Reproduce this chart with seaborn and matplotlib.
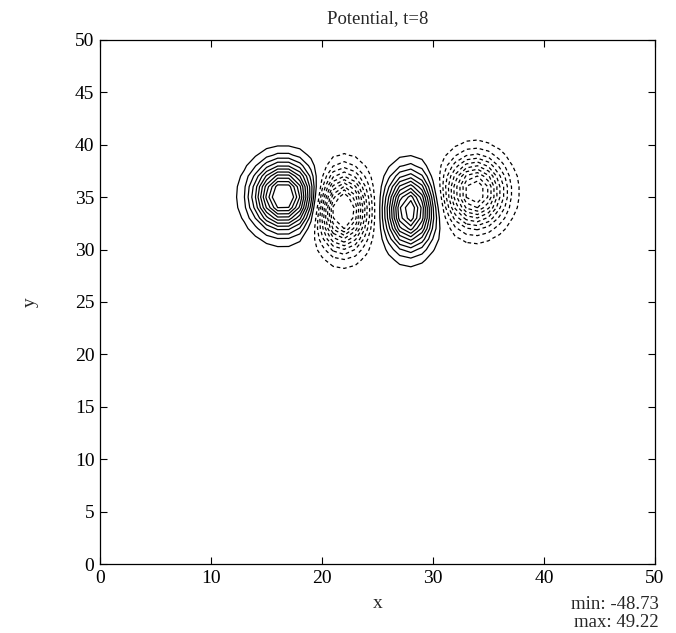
import numpy as np
import matplotlib
matplotlib.use("Agg")
import matplotlib.pyplot as plt
import seaborn as sns

# vortex parameters
vx_center = [16.5, 21.9, 27.9, 33.8]
vy_center = [35.1, 33.7, 33.7, 35.5]
amplitude = [49.22, -48.73, 46.0, -43.0]
sigma_x = [1.8, 1.45, 1.4, 1.75]
sigma_y = [2.1, 2.4, 2.35, 2.2]
level_step = 3.75
n_pos_levels = 11
n_neg_levels = 10

title_text = "Potential, t=8"
min_text = "min: -48.73"
max_text = "max: 49.22"
yticks = [0, 5, 10, 15, 20, 25, 30, 35, 40, 45, 50]
xticks = [0, 10, 20, 30, 40, 50]

sns.set_theme(style="ticks")
plt.rcParams['font.family'] = ['Liberation Serif', 'DejaVu Serif']

gx = np.arange(0, 51, 1.0)
gy = np.arange(0, 51, 1.0)
X, Y = np.meshgrid(gx, gy)
Z = np.zeros_like(X)
for cx, cy, a, sx, sy in zip(vx_center, vy_center, amplitude, sigma_x, sigma_y):
    Z += a * np.exp(-0.5 * (((X - cx) / sx) ** 2 + ((Y - cy) / sy) ** 2))

pos = [level_step * k for k in range(1, n_pos_levels + 1)]
neg = [-level_step * k for k in range(n_neg_levels, 0, -1)]

fig = plt.figure(figsize=(6.76, 6.33), dpi=100)
ax = fig.add_axes([0.148, 0.109, 0.821, 0.828])
ax.contour(X, Y, Z, levels=pos, colors="black", linewidths=0.9, linestyles="solid")
cs = ax.contour(X, Y, Z, levels=neg, colors="black", linewidths=0.9)
cs.set_linestyle((0, (2.9, 2.3)))

ax.set_xlim(0, 50)
ax.set_ylim(0, 50)
ax.set_xticks(xticks)
ax.set_yticks(yticks)
ax.tick_params(direction="in", top=True, right=True, length=5, width=0.8,
               labelsize=14, colors="black", pad=4)
for s in ax.spines.values():
    s.set_linewidth(0.9)
    s.set_color("black")
ax.set_title(title_text, fontsize=13.5, pad=12)
ax.set_xlabel("x", fontsize=14, labelpad=6)
ax.set_ylabel("y", fontsize=14, labelpad=26, rotation=90)
fig.text(0.974, 0.010, max_text, ha="right", va="baseline", fontsize=13.5)
fig.text(0.974, 0.038, min_text, ha="right", va="baseline", fontsize=13.5)
fig.savefig("out.png", dpi=100, facecolor="white")
